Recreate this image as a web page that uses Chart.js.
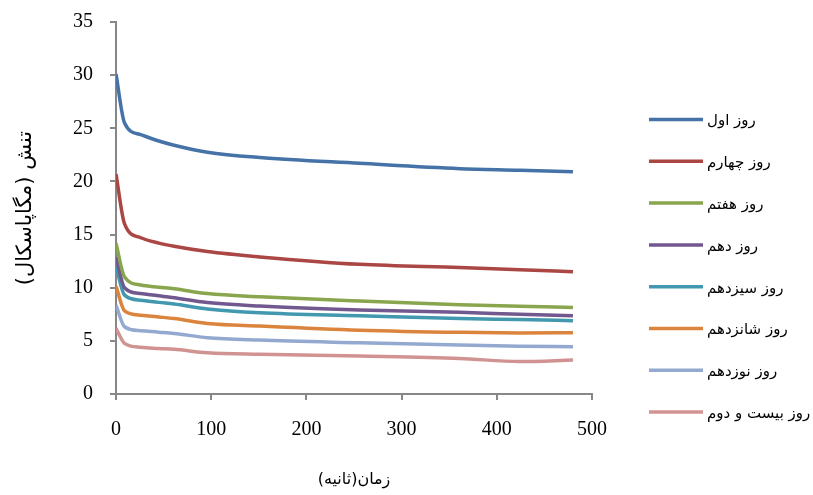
<!DOCTYPE html>
<html>
<head>
<meta charset="utf-8">
<script src="https://cdn.jsdelivr.net/npm/chart.js@4"></script>
<style>
html,body{margin:0;padding:0;background:#fff;}
#wrap{width:813px;height:495px;position:relative;}
</style>
</head>
<body>
<div id="wrap"><canvas id="c" width="813" height="495"></canvas></div>
<script>
const timeSec = [0, 9, 26, 45, 61, 96, 151, 256, 361, 424, 480];
const seriesNames = ["روز اول","روز چهارم","روز هفتم","روز دهم","روز سیزدهم","روز شانزدهم","روز نوزدهم","روز بیست و دوم"];
const day1  = [30.1, 25.5, 24.4, 23.8, 23.4, 22.75, 22.25, 21.7, 21.2, 21.05, 20.9];
const day4  = [20.7, 16.0, 14.7, 14.2, 13.9, 13.4, 12.9, 12.2, 11.9, 11.7, 11.5];
const day7  = [14.2, 11.0, 10.25, 10.05, 9.9, 9.45, 9.15, 8.74, 8.4, 8.25, 8.15];
const day10 = [12.9, 10.0, 9.45, 9.25, 9.05, 8.6, 8.27, 7.9, 7.68, 7.5, 7.36];
const day13 = [12.0, 9.3, 8.83, 8.62, 8.46, 8.0, 7.64, 7.36, 7.1, 7.0, 6.9];
const day16 = [10.15, 7.83, 7.42, 7.25, 7.1, 6.64, 6.39, 6.0, 5.8, 5.75, 5.76];
const day19 = [8.36, 6.33, 5.95, 5.82, 5.7, 5.3, 5.07, 4.82, 4.6, 4.5, 4.45];
const day22 = [6.17, 4.76, 4.39, 4.28, 4.2, 3.88, 3.73, 3.57, 3.35, 3.05, 3.2];
const xTicks = [0, 100, 200, 300, 400, 500];
const yTicks = [0, 5, 10, 15, 20, 25, 30, 35];
const xTitle = "زمان(ثانیه)";
const yTitle = "تنش (مگاپاسکال)";

const colors = ["#4572A7","#AA4643","#89A54E","#71588F","#4198AF","#DB843D","#93A9CF","#D19392"];
const allSeries = [day1, day4, day7, day10, day13, day16, day19, day22];

const datasets = allSeries.map((vals, i) => ({
  label: seriesNames[i],
  data: vals.map((v, j) => ({x: timeSec[j], y: v})),
  borderColor: colors[i],
  backgroundColor: colors[i],
  borderWidth: 3.5,
  pointRadius: 0,
  fill: false,
  cubicInterpolationMode: 'monotone'
}));

const legendPlugin = {
  id: 'customLegend',
  afterDraw(chart) {
    const ctx = chart.ctx;
    ctx.save();
    chart.data.datasets.forEach((ds, i) => {
      const y = 119.5 + i * 41.8;
      ctx.strokeStyle = ds.borderColor;
      ctx.lineWidth = 3.5;
      ctx.beginPath();
      ctx.moveTo(649, y);
      ctx.lineTo(703, y);
      ctx.stroke();
      ctx.fillStyle = '#000';
      ctx.font = '15px "DejaVu Sans"';
      ctx.direction = 'rtl';
      ctx.textAlign = 'left';
      ctx.textBaseline = 'middle';
      ctx.fillText(ds.label, 707, y + 2);
    });
    ctx.restore();
  }
};

new Chart(document.getElementById('c'), {
  type: 'line',
  data: { datasets },
  plugins: [legendPlugin],
  options: {
    responsive: false,
    animation: false,
    layout: { padding: { top: 22, right: 221, left: 0, bottom: 0 } },
    plugins: { legend: { display: false }, tooltip: { enabled: false } },
    scales: {
      x: {
        type: 'linear', min: 0, max: 500,
        afterBuildTicks(s) { s.ticks = xTicks.map(v => ({value: v})); },
        afterFit(s) { s.height = 101; s.paddingRight = 0; },
        border: { display: true, color: '#878787', width: 2 },
        grid: { drawOnChartArea: false, drawTicks: true, tickLength: 6, color: '#878787', lineWidth: 2 },
        ticks: { padding: 18, color: '#000', font: { family: '"Liberation Serif"', size: 20 }, maxRotation: 0 },
        title: { display: true, text: xTitle, color: '#000', font: { family: '"DejaVu Sans"', size: 16 }, padding: { top: 0, bottom: 6 } }
      },
      y: {
        type: 'linear', min: 0, max: 35,
        afterBuildTicks(s) { s.ticks = yTicks.map(v => ({value: v})); },
        afterFit(s) { s.width = 116; s.paddingTop = 0; s.paddingBottom = 0; },
        border: { display: true, color: '#878787', width: 2 },
        grid: { drawOnChartArea: false, drawTicks: true, tickLength: 6, color: '#878787', lineWidth: 2 },
        ticks: { padding: 17, color: '#000', font: { family: '"Liberation Serif"', size: 20 } },
        title: { display: true, text: yTitle, color: '#000', font: { family: '"DejaVu Sans"', size: 21 }, padding: { top: 13, bottom: 0 } }
      }
    }
  }
});
</script>
</body>
</html>
